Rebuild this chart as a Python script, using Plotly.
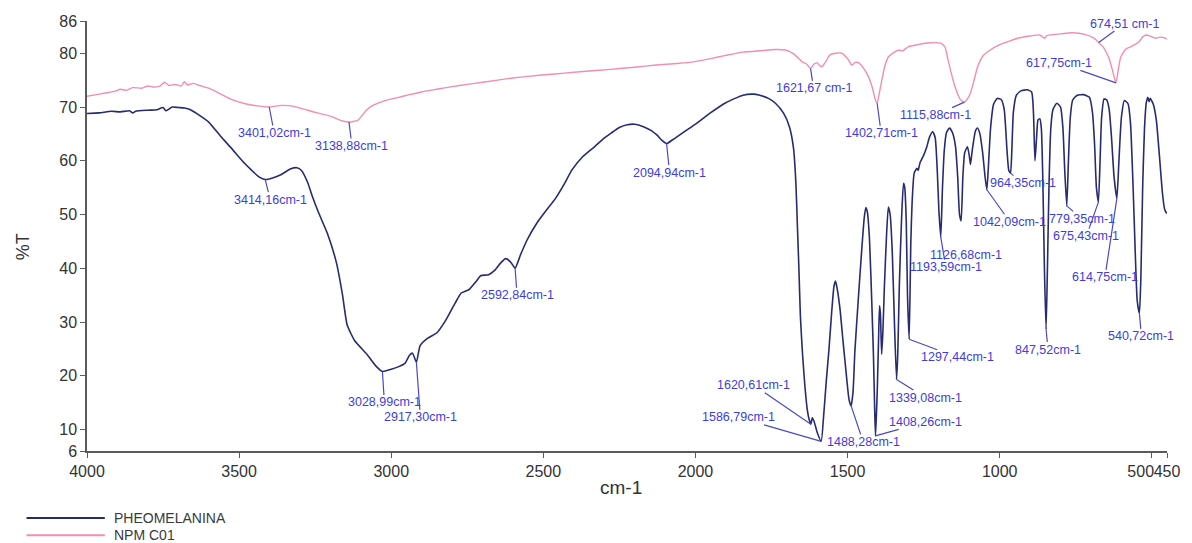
import numpy as np
import plotly.graph_objects as go

# ---------------------------------------------------------------- data
# PHEOMELANINA spectrum: wavenumber (cm-1) and %T
pheo_wn = [
    4000, 3960, 3920, 3890, 3860, 3850, 3840, 3800, 3770, 3750, 3740, 3720, 3700, 3680, 3660, 3640, 3600, 3560, 3525, 3490,
    3460, 3435, 3414.16, 3390, 3363, 3330, 3310, 3295, 3275, 3260, 3240, 3210, 3180, 3160, 3145, 3120, 3080, 3050, 3028.99, 3000,
    2975, 2955, 2940, 2930, 2917.30, 2905, 2880, 2850, 2820, 2790, 2770, 2745, 2720, 2706, 2680, 2660, 2640, 2624, 2608, 2592.84,
    2575, 2553, 2520, 2494, 2460, 2430, 2406, 2370, 2332, 2300, 2276, 2250, 2224, 2200, 2169, 2145, 2127, 2110, 2094.94, 2075,
    2062, 2000, 1951, 1900, 1844, 1810, 1789, 1760, 1737, 1710, 1691, 1678, 1670, 1665, 1660, 1655, 1648, 1640, 1632, 1626,
    1620.61, 1616, 1610, 1600, 1586.79, 1578, 1570, 1561, 1552, 1545, 1540, 1535, 1525, 1515, 1502, 1495, 1488.28, 1482, 1476, 1465,
    1454, 1445, 1440, 1435, 1428, 1420, 1415, 1411, 1408.26, 1405, 1402, 1398, 1395, 1392, 1388, 1384, 1379, 1372, 1366, 1360,
    1353, 1346, 1339.08, 1335, 1330, 1322, 1316, 1312, 1307, 1303, 1297.44, 1292, 1288, 1281, 1272, 1268, 1262, 1250, 1240, 1230,
    1220, 1212, 1205, 1200, 1193.59, 1188, 1182, 1175, 1165, 1155, 1145, 1138, 1132, 1126.68, 1121, 1115, 1106, 1100, 1096, 1090,
    1080, 1073, 1065, 1056, 1048, 1042.09, 1036, 1030, 1020, 1008, 995, 985, 976, 970, 964.35, 960, 955, 945, 930, 910,
    895, 889, 884, 879, 874, 868, 863, 858, 853, 847.52, 843, 838, 832, 825, 812, 800, 792, 786, 779.35, 774,
    768, 760, 745, 725, 705, 695, 688, 682, 675.43, 670, 665, 657, 648, 640, 632, 624, 614.75, 608, 600, 590,
    578, 570, 562, 555, 548, 540.72, 536, 530, 524, 518, 513, 509, 505, 495, 485, 475, 465, 458, 452, 450,
]
pheo_t = [
    68.8, 68.9, 69.2, 69.1, 69.3, 68.9, 69.2, 69.4, 69.5, 69.9, 69.3, 70.0, 69.9, 69.8, 69.5, 68.8, 67.2, 64.5, 62.3, 60.0,
    58.3, 57.0, 56.5, 56.8, 57.4, 58.5, 58.7, 58.2, 56.0, 53.5, 50.5, 46.5, 41.0, 35.0, 29.5, 26.5, 24.0, 21.8, 20.8, 21.2,
    21.7, 22.3, 23.8, 24.2, 22.5, 25.6, 27.0, 28.0, 30.4, 33.5, 35.4, 36.0, 37.6, 38.6, 38.8, 39.6, 41.0, 41.8, 41.2, 40.0,
    42.5, 45.3, 48.5, 50.5, 53.0, 55.8, 58.3, 60.8, 62.6, 64.2, 65.2, 66.2, 66.7, 66.8, 66.3, 65.6, 64.8, 63.8, 63.2, 63.9,
    64.4, 66.8, 68.9, 70.8, 72.2, 72.4, 72.2, 71.6, 70.7, 68.8, 66.3, 62.5, 56.0, 48.0, 40.0, 31.0, 24.0, 17.9, 13.5, 11.8,
    11.0, 12.2, 11.5, 9.5, 7.8, 13.0, 19.0, 25.0, 32.0, 36.5, 37.6, 36.5, 32.5, 26.5, 19.0, 15.5, 14.4, 17.0, 24.5, 34.0,
    43.0, 49.5, 51.3, 50.5, 45.5, 33.0, 24.0, 14.0, 8.8, 13.0, 18.0, 27.0, 33.0, 31.5, 24.0, 28.0, 36.5, 46.0, 51.4, 50.0,
    43.0, 30.0, 19.3, 24.0, 36.5, 50.0, 55.8, 55.0, 48.5, 35.0, 26.8, 45.0, 52.0, 57.7, 58.6, 58.2, 59.6, 61.0, 62.5, 64.5,
    65.4, 64.3, 58.0, 51.0, 45.8, 55.0, 62.0, 65.2, 66.1, 65.2, 62.6, 57.0, 50.0, 48.8, 57.0, 61.5, 62.6, 61.0, 59.3, 62.0,
    65.5, 66.1, 65.0, 61.5, 57.0, 54.6, 60.0, 66.0, 70.5, 71.6, 71.4, 69.5, 62.0, 58.2, 57.7, 62.0, 69.0, 72.2, 73.0, 73.2,
    72.8, 69.0, 60.0, 64.0, 67.6, 67.8, 66.0, 56.0, 40.0, 28.6, 40.0, 55.0, 66.0, 69.5, 70.7, 70.0, 66.0, 58.0, 51.6, 60.0,
    68.0, 71.3, 72.2, 72.3, 71.8, 69.0, 63.0, 55.0, 52.3, 60.0, 68.0, 71.5, 71.3, 69.5, 64.0, 57.0, 53.0, 60.0, 68.0, 71.2,
    70.6, 67.0, 56.0, 44.0, 34.0, 31.6, 38.0, 55.0, 66.0, 70.8, 71.8, 71.0, 71.6, 70.5, 67.5, 61.0, 54.0, 51.0, 50.3, 50.5,
]

# NPM C01 spectrum: wavenumber (cm-1) and %T
npm_wn = [
    4000, 3970, 3940, 3910, 3890, 3870, 3850, 3820, 3800, 3780, 3760, 3745, 3730, 3710, 3690, 3680, 3670, 3650, 3630, 3600,
    3560, 3525, 3480, 3440, 3401.02, 3360, 3330, 3300, 3250, 3200, 3160, 3138.88, 3110, 3080, 3057, 3020, 2982, 2940, 2900, 2850,
    2800, 2750, 2700, 2650, 2600, 2550, 2494, 2430, 2350, 2280, 2200, 2130, 2060, 2006, 1950, 1900, 1844, 1780, 1740, 1704,
    1675, 1649, 1635, 1621.67, 1610, 1600, 1590, 1584, 1570, 1558, 1540, 1519, 1500, 1486, 1475, 1463, 1445, 1431, 1418, 1408,
    1402.71, 1396, 1389, 1378, 1366, 1346, 1330, 1320, 1301, 1270, 1236, 1194, 1180, 1171, 1160, 1148, 1135, 1128, 1115.88, 1105,
    1096, 1085, 1073, 1055, 1031, 1000, 976, 940, 900, 868, 858, 852, 845, 800, 761, 720, 690, 674.51, 660, 641,
    630, 617.75, 610, 602, 585, 570, 550, 543, 530, 520, 505, 488, 470, 456, 450,
]
npm_t = [
    72.0, 72.3, 72.6, 72.9, 73.3, 73.1, 73.6, 73.5, 73.9, 73.7, 73.9, 74.6, 74.0, 74.2, 73.9, 74.7, 74.1, 74.4, 74.0, 73.5,
    72.4, 71.4, 70.6, 70.2, 70.0, 70.3, 70.2, 69.8, 69.0, 68.3, 67.4, 67.2, 67.5, 69.5, 70.4, 71.2, 71.7, 72.3, 72.8, 73.3,
    73.8, 74.2, 74.6, 75.0, 75.4, 75.7, 76.0, 76.3, 76.7, 77.0, 77.4, 77.8, 78.1, 78.4, 79.0, 79.6, 80.2, 80.5, 80.7, 80.6,
    79.8, 78.4, 78.0, 77.2, 78.0, 78.2, 77.6, 77.5, 78.6, 79.7, 80.0, 80.0, 79.0, 77.8, 78.3, 78.2, 77.0, 75.6, 73.5, 71.2,
    70.7, 72.5, 74.5, 77.5, 79.3, 80.2, 80.6, 80.4, 81.2, 81.6, 81.9, 81.9, 81.2, 79.1, 76.5, 74.0, 72.0, 71.3, 70.9, 71.6,
    72.6, 74.8, 77.4, 79.5, 80.6, 81.6, 82.1, 82.8, 83.2, 83.4, 83.0, 82.8, 83.3, 83.6, 83.8, 83.5, 82.8, 82.0, 81.2, 79.1,
    77.0, 74.5, 77.0, 79.3, 80.8, 81.2, 81.8, 82.1, 83.0, 83.4, 83.2, 82.8, 83.0, 82.8, 82.6,
]

# peak annotations (wavenumber, text)
pheo_peaks = [3414.16, 3028.99, 2917.30, 2592.84, 2094.94, 1620.61, 1586.79, 1488.28, 1408.26, 1339.08,
              1297.44, 1193.59, 1126.68, 1042.09, 964.35, 847.52, 779.35, 675.43, 614.75, 540.72]
pheo_peak_text = ["3414,16cm-1", "3028,99cm-1", "2917,30cm-1", "2592,84cm-1", "2094,94cm-1", "1620,61cm-1",
                  "1586,79cm-1", "1488,28cm-1", "1408,26cm-1", "1339,08cm-1", "1297,44cm-1", "1193,59cm-1",
                  "1126,68cm-1", "1042,09cm-1", "964,35cm-1", "847,52cm-1", "779,35cm-1", "675,43cm-1",
                  "614,75cm-1", "540,72cm-1"]
npm_peaks = [3401.02, 3138.88, 1621.67, 1402.71, 1115.88, 674.51, 617.75]
npm_peak_text = ["3401,02cm-1", "3138,88cm-1", "1621,67 cm-1", "1402,71cm-1", "1115,88cm-1", "674,51 cm-1",
                 "617,75cm-1"]

x_tick_vals = [4000, 3500, 3000, 2500, 2000, 1500, 1000, 500, 450]
x_tick_text = ["4000", "3500", "3000", "2500", "2000", "1500", "1000", "500" + "\u00a0" * 5, "450"]
y_tick_vals = [6, 10, 20, 30, 40, 50, 60, 70, 80, 86]

# ---------------------------------------------------------------- style
NAVY = "#272b70"
PINK = "#f08db0"
LABEL_BLUE = "#3d3ddb"
LEADER_BLUE = "#4848c8"
AXIS_GREY = "#5a5a5a"
FONT = "Liberation Sans, Arial, sans-serif"

# label text offsets (pixels, text centre relative to the marked minimum)
pheo_offsets = [(5, 20), (2, 31), (4, 55), (2, 27), (3, 29), (-57, -39), (-83, -24), (12, 36), (50, -14),
                (29, 18), (48, 18), (5, 30), (5, 34), (23, 32), (12, 10), (2, 20), (15, 13), (-12, 34),
                (-12, 79), (2, 23)]
npm_offsets = [(5, 26), (3, 24), (3, 20), (4, 30), (-29, 13), (26, -19), (-57, -20)]


def value_at(wn, t, w):
    return float(np.interp(w, wn[::-1], t[::-1]))


fig = go.Figure()
fig.add_trace(go.Scatter(x=npm_wn, y=npm_t, mode="lines", name="NPM C01", showlegend=False,
                         line=dict(color=PINK, width=1.4, shape="spline", smoothing=0.5)))
fig.add_trace(go.Scatter(x=pheo_wn, y=pheo_t, mode="lines", name="PHEOMELANINA", showlegend=False,
                         line=dict(color=NAVY, width=1.6, shape="spline", smoothing=0.5)))

for wn, t, peaks, texts, offs in [(pheo_wn, pheo_t, pheo_peaks, pheo_peak_text, pheo_offsets),
                                   (npm_wn, npm_t, npm_peaks, npm_peak_text, npm_offsets)]:
    for w, txt, (ax, ay) in zip(peaks, texts, offs):
        fig.add_annotation(x=w, y=value_at(wn, t, w), text=txt, showarrow=True, arrowhead=0,
                           arrowwidth=1.2, arrowcolor=LEADER_BLUE, ax=ax, ay=ay, standoff=0,
                           borderpad=0, font=dict(family=FONT, size=12.5, color=LABEL_BLUE))

# axis titles
fig.add_annotation(text="%T", xref="paper", yref="paper", x=0, y=0.474, xshift=-76, showarrow=False,
                   textangle=-90, font=dict(family=FONT, size=18, color="#333333"))
fig.add_annotation(text="cm-1", xref="paper", yref="paper", x=0.494, y=0, yshift=-49, showarrow=False,
                   font=dict(family=FONT, size=19, color="#333333"))

# legend drawn below the plot
legend_items = [("PHEOMELANINA", NAVY, -0.156), ("NPM C01", PINK, -0.196)]
for name, color, ly in legend_items:
    fig.add_shape(type="line", xref="paper", yref="paper", x0=-0.0560, x1=0.0165, y0=ly, y1=ly,
                  line=dict(color=color, width=2))
    fig.add_annotation(text=name, xref="paper", yref="paper", x=0.0229, y=ly, xanchor="left",
                       yanchor="middle", showarrow=False, font=dict(family=FONT, size=14, color="#3a3a3a"))

fig.update_layout(
    width=1192, height=543,
    margin=dict(l=87, r=15, t=21, b=92),
    paper_bgcolor="white", plot_bgcolor="white",
    showlegend=False,
    xaxis=dict(range=[4000, 450], tickvals=x_tick_vals, ticktext=x_tick_text, tickangle=0,
               showline=True, linecolor=AXIS_GREY, linewidth=1.5, ticks="outside", ticklen=5,
               tickcolor=AXIS_GREY, showgrid=False, zeroline=False,
               tickfont=dict(family=FONT, size=16, color="#333333")),
    yaxis=dict(range=[6, 86], tickvals=y_tick_vals, showline=True, linecolor=AXIS_GREY, linewidth=1.5,
               ticks="outside", ticklen=5, tickcolor=AXIS_GREY, showgrid=False, zeroline=False,
               tickfont=dict(family=FONT, size=16, color="#333333")),
)

fig.write_html("out.html")
